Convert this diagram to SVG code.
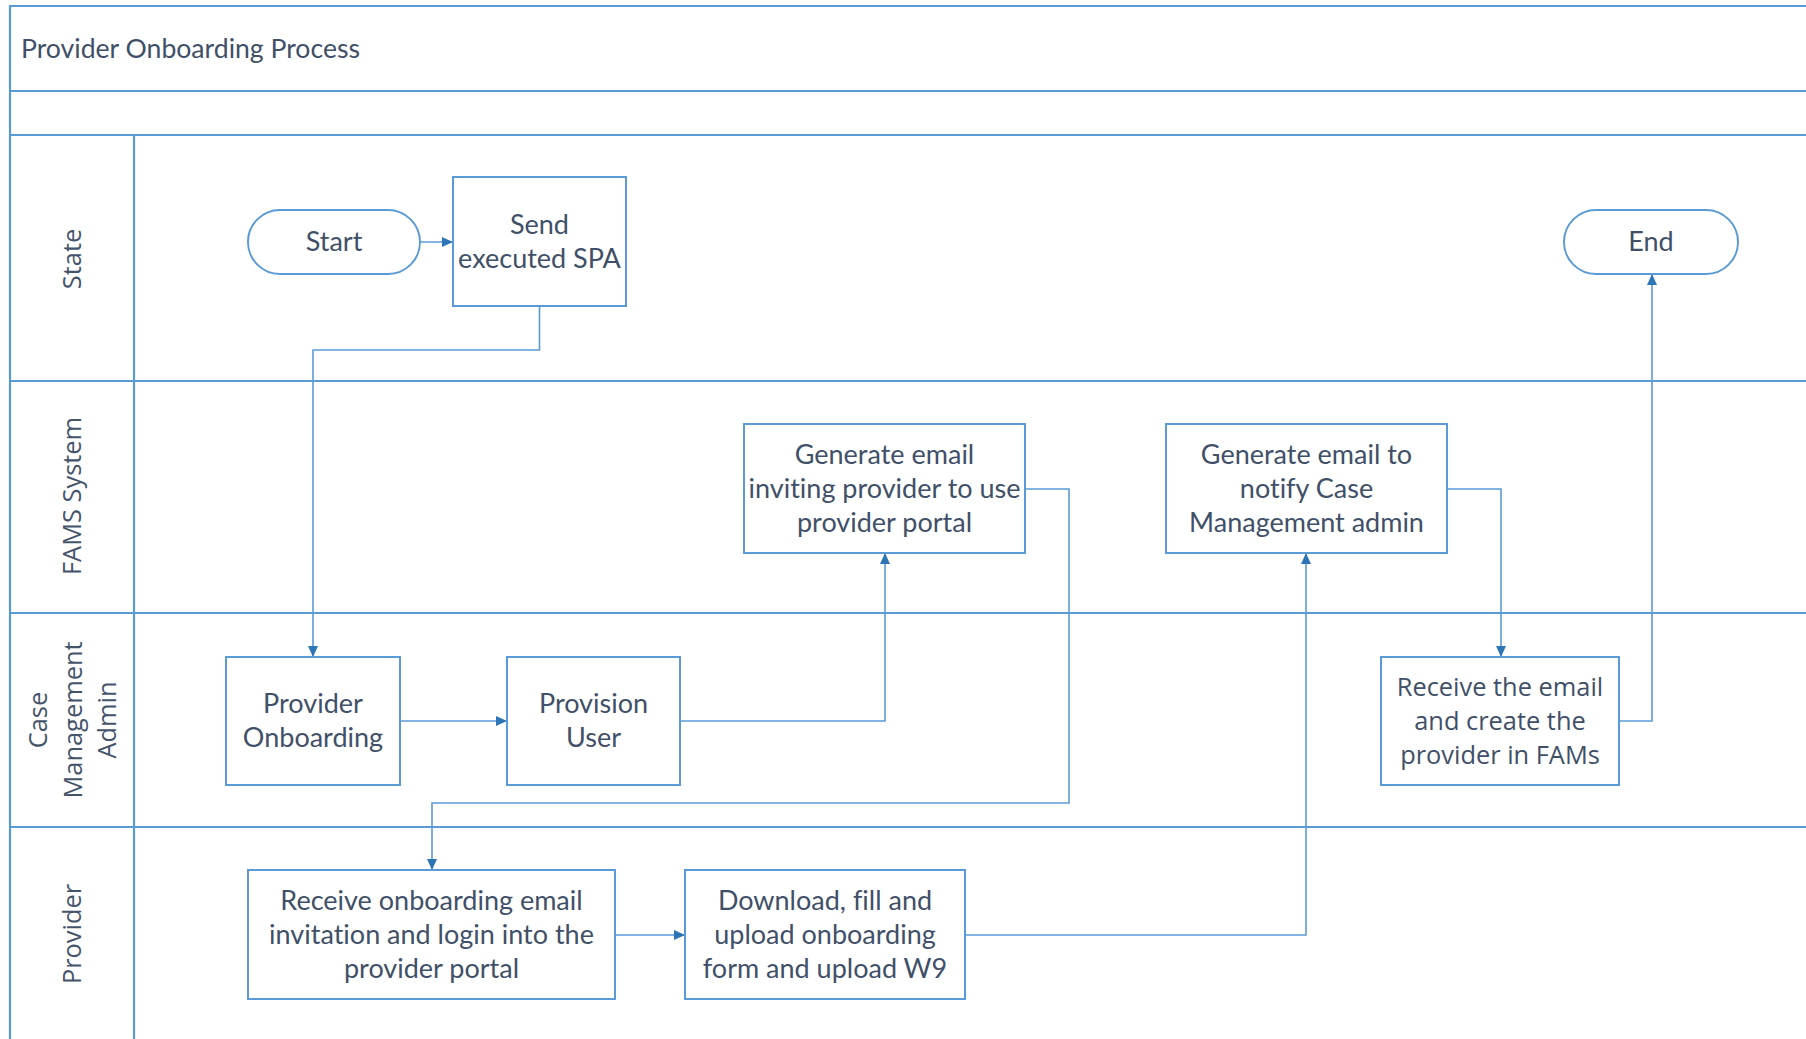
<svg xmlns="http://www.w3.org/2000/svg" width="1806" height="1039" viewBox="0 0 1806 1039">
<style>
.lane{stroke:#5B9BD5;stroke-width:2.2;fill:none}
.box{fill:#fff;stroke:#5B9BD5;stroke-width:2}
.t{font-family:Lato,"Liberation Sans",sans-serif;font-size:27px;fill:#3F5068;text-anchor:middle;dominant-baseline:central;font-variant-ligatures:none}
.t2{font-family:"Open Sans","Liberation Sans",sans-serif;font-size:25.4px;fill:#3F5068;text-anchor:middle;dominant-baseline:central}
.lbl{font-family:"Open Sans","Liberation Sans",sans-serif;font-size:25.4px;fill:#44546A;text-anchor:middle;dominant-baseline:central}
.title{font-family:Lato,"Liberation Sans",sans-serif;font-size:26.6px;fill:#3F5068}
.c{stroke:#5B9BD5;stroke-width:1.6;fill:none;marker-end:url(#ah)}
</style>
<defs>
<marker id="ah" markerUnits="userSpaceOnUse" markerWidth="12" markerHeight="12" refX="11" refY="5" orient="auto">
<path d="M0,0 L11,5 L0,10 Z" fill="#2E75B6"/>
</marker>
</defs>
<rect width="1806" height="1039" fill="#fff"/>
<g id="pool">
<path class="lane" d="M10,1039 V6 H1806 M10,91 H1806 M10,135 H1806 M10,381 H1806 M10,613 H1806 M10,827 H1806 M134,135 V1039"/>
<text class="title" x="21" y="58">Provider Onboarding Process</text>
</g>
<g id="lane-labels">
<text class="lbl" transform="translate(71,259) rotate(-90)">State</text>
<text class="lbl" transform="translate(71,496) rotate(-90)">FAMS System</text>
<text class="lbl" transform="translate(37,720) rotate(-90)">Case</text>
<text class="lbl" transform="translate(72,720) rotate(-90)">Management</text>
<text class="lbl" transform="translate(106,720) rotate(-90)">Admin</text>
<text class="lbl" transform="translate(71,934) rotate(-90)">Provider</text>
</g>
<g id="connectors">
<path class="c" d="M420,242 H453"/>
<path class="c" d="M539.5,306 V350 H313 V657"/>
<path class="c" d="M400,721 H507"/>
<path class="c" d="M680,721 H885 V553"/>
<path class="c" d="M1025,489 H1069 V803 H432 V870"/>
<path class="c" d="M615,935 H685"/>
<path class="c" d="M965,935 H1306 V553"/>
<path class="c" d="M1447,489 H1501 V657"/>
<path class="c" d="M1619,721 H1652 V274"/>
</g>
<g id="start">
<rect class="box" x="248" y="210" width="172" height="64" rx="32"/>
<text class="t" x="334" y="240.5">Start</text>
</g>
<g id="send-spa">
<rect class="box" x="453" y="177" width="173" height="129"/>
<text class="t" x="539.5" y="223.5">Send</text>
<text class="t" x="539.5" y="257.5">executed SPA</text>
</g>
<g id="end">
<rect class="box" x="1564" y="210" width="174" height="64" rx="32"/>
<text class="t" x="1651" y="240.5">End</text>
</g>
<g id="gen-invite">
<rect class="box" x="744" y="424" width="281" height="129"/>
<text class="t" x="884.5" y="453.5">Generate email</text>
<text class="t" x="884.5" y="487.5">inviting provider to use</text>
<text class="t" x="884.5" y="521.5">provider portal</text>
</g>
<g id="gen-notify">
<rect class="box" x="1166" y="424" width="281" height="129"/>
<text class="t" x="1306.5" y="453.5">Generate email to</text>
<text class="t" x="1306.5" y="487.5">notify Case</text>
<text class="t" x="1306.5" y="521.5">Management admin</text>
</g>
<g id="provider-onboarding">
<rect class="box" x="226" y="657" width="174" height="128"/>
<text class="t" x="313" y="702.5">Provider</text>
<text class="t" x="313" y="736.5">Onboarding</text>
</g>
<g id="provision-user">
<rect class="box" x="507" y="657" width="173" height="128"/>
<text class="t" x="593.5" y="702.5">Provision</text>
<text class="t" x="593.5" y="736.5">User</text>
</g>
<g id="receive-email">
<rect class="box" x="1381" y="657" width="238" height="128"/>
<text class="t2" x="1500" y="686">Receive the email</text>
<text class="t2" x="1500" y="720">and create the</text>
<text class="t2" x="1500" y="754">provider in FAMs</text>
</g>
<g id="receive-onboarding">
<rect class="box" x="248" y="870" width="367" height="129"/>
<text class="t" x="431.5" y="899.5">Receive onboarding email</text>
<text class="t" x="431.5" y="933.5">invitation and login into the</text>
<text class="t" x="431.5" y="967.5">provider portal</text>
</g>
<g id="download">
<rect class="box" x="685" y="870" width="280" height="129"/>
<text class="t" x="825" y="899.5">Download, fill and</text>
<text class="t" x="825" y="933.5">upload onboarding</text>
<text class="t" x="825" y="967.5">form and upload W9</text>
</g>
</svg>
